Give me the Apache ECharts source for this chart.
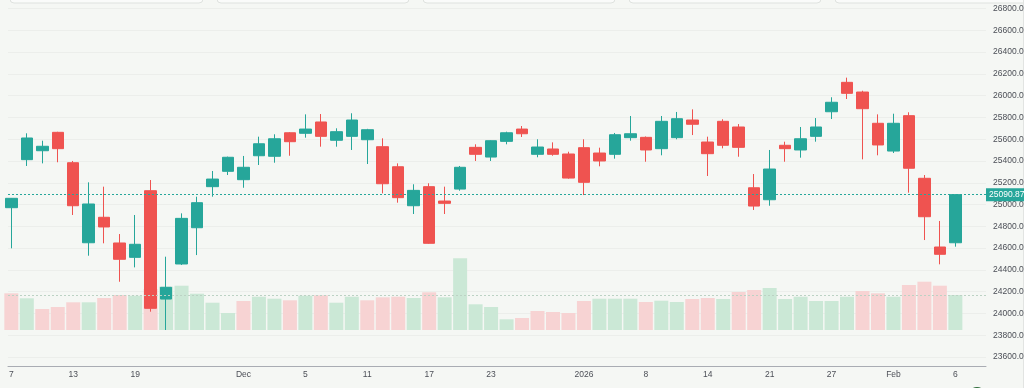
<!DOCTYPE html>
<html><head><meta charset="utf-8">
<script src="https://cdn.jsdelivr.net/npm/echarts@6/dist/echarts.min.js"></script>
<style>html,body{margin:0;padding:0;background:#f5f7f4;overflow:hidden}#c{width:1024px;height:388px}</style>
</head><body><div id="c"></div><script>
// ---- data ----
const dates = [
 '2025-11-07','2025-11-10','2025-11-11','2025-11-12','2025-11-13','2025-11-14','2025-11-17','2025-11-18','2025-11-19','2025-11-20','2025-11-21','2025-11-24','2025-11-25','2025-11-26','2025-11-28',
 '2025-12-01','2025-12-02','2025-12-03','2025-12-04','2025-12-05','2025-12-08','2025-12-09','2025-12-10','2025-12-11','2025-12-12','2025-12-15','2025-12-16','2025-12-17','2025-12-18','2025-12-19','2025-12-22','2025-12-23','2025-12-24','2025-12-26','2025-12-29','2025-12-30','2025-12-31',
 '2026-01-02','2026-01-05','2026-01-06','2026-01-07','2026-01-08','2026-01-09','2026-01-12','2026-01-13','2026-01-14','2026-01-15','2026-01-16','2026-01-20','2026-01-21','2026-01-22','2026-01-23','2026-01-26','2026-01-27','2026-01-28','2026-01-29','2026-01-30',
 '2026-02-02','2026-02-03','2026-02-04','2026-02-05','2026-02-06'];
const opens = [24971,25412,25494,25663,25384,24649,24883,24647,24515,25127,24132,24454,24787,25164,25305,25228,25448,25443,25659,25654,25758,25590,25626,25595,25531,25347,24989,25164,25032,25142,25525,25436,25580,25693,25461,25510,25464,25522,25473,25461,25614,25617,25513,25614,25776,25574,25764,25712,25154,25044,25544,25501,25626,25852,26122,26033,25746,25491,25816,25241,24610,24649];
const closes = [25057,25611,25535,25513,24989,25005,24794,24497,24635,24047,24240,24873,25017,25234,25434,25342,25558,25604,25577,25693,25626,25669,25776,25687,25191,25063,25130,24644,25011,25342,25461,25586,25659,25650,25528,25461,25243,25204,25400,25641,25650,25501,25764,25788,25737,25467,25544,25525,24986,25326,25513,25604,25712,25939,26021,25880,25547,25746,25333,24888,24543,25090.87];
const lows = [24598,25354,25378,25388,24904,24530,24644,24291,24423,24016,23848,24445,24536,25072,25271,25154,25363,25384,25448,25614,25531,25531,25501,25372,25103,25017,24913,24640,24913,25127,25400,25400,25553,25620,25434,25448,25237,25087,25351,25421,25586,25393,25452,25599,25638,25262,25516,25439,24950,24989,25393,25430,25577,25785,25969,25415,25452,25473,25109,24674,24451,24613];
const highs = [25060,25654,25586,25668,25400,25204,25164,24729,24904,25225,24521,24919,25072,25308,25440,25446,25623,25645,25665,25828,25831,25700,25838,25695,25608,25378,25186,25195,25164,25354,25553,25590,25669,25721,25599,25571,25485,25599,25522,25657,25813,25625,25813,25850,25874,25623,25783,25739,25280,25501,25577,25712,25794,25985,26165,26045,25828,25834,25847,25271,24849,25095];
const volumes = [36.7,31.7,21,23,27.7,27.7,32,35,34.3,41,43.3,44.3,36.3,27.3,17,29,33.3,31.3,29.7,34.3,34.7,27.3,33.3,29.7,32.7,33.3,32,37.7,32.7,71.7,25.7,23,10.7,12,19,18,17,29,31.3,31.3,31.3,28,29.3,28,31,32,31,38,40,42,31,33.3,29,29,33.3,39,36.7,33.3,45,48.3,44.3,35];
const prevClose = 25110;
const lastPrice = 25090.87;
const tickIdx = [0,4,8,15,19,23,27,31,37,41,45,49,53,57,61];
const tickLabels = ['7','13','19','Dec','5','11','17','23','2026','8','14','21','27','Feb','6'];
const priceTicks = {min:23600, max:26800, step:200};

// ---- chart ----
const UP='#26a69a', DOWN='#ef5350', VUP='#cbe8d6', VDOWN='#f7d3d3';
const candleData = dates.map((d,i)=>[i, opens[i], closes[i], lows[i], highs[i]]);
const volData = volumes.map((v,i)=>({value:[i,v], itemStyle:{color: closes[i] >= (i ? closes[i-1] : prevClose) ? VUP : VDOWN}}));
const XMIN=-0.215, XMAX=62.98;
const FONT='"Liberation Sans", Arial, sans-serif';
const chart = echarts.init(document.getElementById('c'));
chart.setOption({
  backgroundColor:'#f5f7f4',
  animation:false,
  textStyle:{fontFamily:FONT},
  grid:[{left:8,right:38,top:8.5,bottom:31,outerBoundsMode:'none',containLabel:false},
        {left:8,right:38,top:230,bottom:58,outerBoundsMode:'none',containLabel:false}],
  xAxis:[
    {type:'value',gridIndex:0,min:XMIN,max:XMAX,offset:9.5,
     axisLine:{show:true,lineStyle:{color:'#a9acb3',width:1}},
     axisTick:{show:false},splitLine:{show:false},
     axisLabel:{customValues:tickIdx,formatter:v=>tickLabels[tickIdx.indexOf(Math.round(v))]||'',color:'#4c4f57',fontSize:8.5,margin:4,fontFamily:FONT}},
    {type:'value',gridIndex:1,min:XMIN,max:XMAX,show:false}
  ],
  yAxis:[
    {type:'value',gridIndex:0,position:'right',min:priceTicks.min,max:priceTicks.max,interval:priceTicks.step,
     axisLine:{show:false},axisTick:{show:false},
     splitLine:{lineStyle:{color:'#eceeeb',width:1}},
     axisLabel:{formatter:v=>v.toFixed(2),color:'#4c4f57',fontSize:8.5,margin:7,fontFamily:FONT}},
    {type:'value',gridIndex:1,min:0,max:100,show:false}
  ],
  series:[
    {type:'bar',xAxisIndex:1,yAxisIndex:1,data:volData,barWidth:14,clip:true,silent:true,
     markLine:{silent:true,symbol:['none','none'],label:{show:false},
       lineStyle:{type:[2,2],color:'#bcd2c4',width:1},
       data:[{yAxis:volumes[volumes.length-1]}]}},
    {type:'candlestick',xAxisIndex:0,yAxisIndex:0,data:candleData,encode:{x:0,y:[1,2,3,4]},barWidth:12,clip:true,
     itemStyle:{color:UP,color0:DOWN,borderColor:UP,borderColor0:DOWN,borderWidth:1},
     markLine:{silent:true,symbol:['none','none'],
       lineStyle:{type:[2,2],color:UP,width:1},
       label:{show:true,position:'end',distance:0,formatter:()=>lastPrice.toFixed(2),backgroundColor:UP,color:'#fff',fontSize:8.5,padding:[2,3,2,3],fontFamily:FONT},
       data:[{yAxis:lastPrice}]}}
  ],
  graphic:[
    {type:'rect',silent:true,shape:{x:10,y:-20,width:193,height:23,r:4},style:{fill:'#fafbfa',stroke:'#dfe2df',lineWidth:1}},
    {type:'rect',silent:true,shape:{x:217,y:-20,width:192,height:23,r:4},style:{fill:'#fafbfa',stroke:'#dfe2df',lineWidth:1}},
    {type:'rect',silent:true,shape:{x:423,y:-20,width:192,height:23,r:4},style:{fill:'#fafbfa',stroke:'#dfe2df',lineWidth:1}},
    {type:'rect',silent:true,shape:{x:629,y:-20,width:192,height:23,r:4},style:{fill:'#fafbfa',stroke:'#dfe2df',lineWidth:1}},
    {type:'rect',silent:true,shape:{x:835,y:-20,width:200,height:23,r:4},style:{fill:'#fafbfa',stroke:'#dfe2df',lineWidth:1}},
    {type:'line',silent:true,shape:{x1:1023.5,y1:0,x2:1023.5,y2:388},style:{stroke:'#e2e4e2',lineWidth:1}},
    {type:'circle',silent:true,shape:{cx:977,cy:396,r:9},style:{fill:'#2e6b3a'}}
  ]
});
</script></body></html>
